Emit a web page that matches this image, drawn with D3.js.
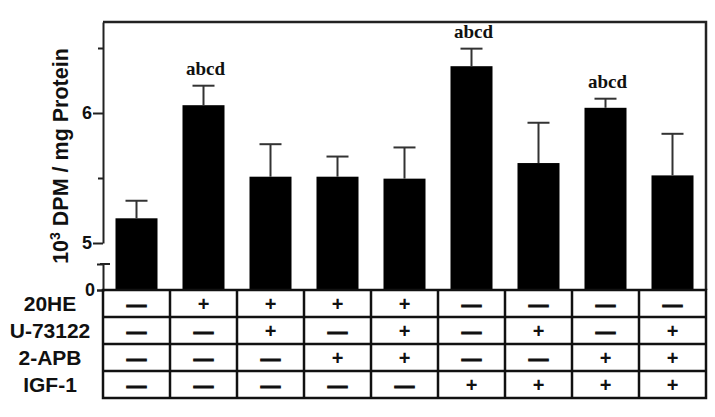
<!DOCTYPE html>
<html>
<head>
<meta charset="utf-8">
<script src="https://cdn.jsdelivr.net/npm/d3@7"></script>
<style>
  body { margin: 0; background: #fff; }
  text { font-family: "Liberation Sans", Arial, sans-serif; font-weight: bold; fill: #111; }
  .sig { font-family: "Liberation Serif", "Times New Roman", serif; }
</style>
</head>
<body>
<svg id="chart"></svg>
<script>
// group means and errors (10^3 DPM / mg protein)
var means = [5.19, 6.06, 5.51, 5.51, 5.495, 6.36, 5.615, 6.04, 5.52];
var errs = [0.135, 0.15, 0.25, 0.155, 0.24, 0.135, 0.31, 0.07, 0.32];
var sigLabels = ["", "abcd", "", "", "", "abcd", "", "abcd", ""];

// treatment table, 1 = "+", 0 = "-"
var treatments = ["20HE", "U-73122", "2-APB", "IGF-1"];
var design = [
    [0, 1, 1, 1, 1, 0, 0, 0, 0],
    [0, 0, 1, 0, 1, 0, 1, 0, 1],
    [0, 0, 0, 1, 1, 0, 0, 1, 1],
    [0, 0, 0, 0, 0, 1, 1, 1, 1]
];
var yTicks = [5, 5.5, 6, 6.5];

var plotL = 103, plotR = 706, plotT = 22, breakY = 243, base = 290, rowH = 27;

var svg = d3.select("#chart")
    .attr("width", 715)
    .attr("height", 417);

var idx = d3.range(means.length);

var x = d3.scaleBand().domain(idx).range([plotL, plotR])
    .paddingInner(0.373).paddingOuter(0.1865);
var xCol = d3.scaleBand().domain(idx).range([plotL, plotR]);

var y = d3.scaleLinear().domain([5, 6.7]).range([breakY, plotT]);
var yLow = d3.scaleLinear().domain([0, 1]).range([base, base - 26]);
var yRow = d3.scaleBand().domain(d3.range(treatments.length))
    .range([base, base + rowH * treatments.length]);

// bars
svg.append("g").selectAll("rect")
    .data(idx)
    .enter().append("rect")
    .attr("x", function(i) { return x(i); })
    .attr("y", function(i) { return y(means[i]); })
    .attr("width", x.bandwidth())
    .attr("height", function(i) { return yLow(0) - y(means[i]); })
    .attr("fill", "#000");

// error bars (upper half only)
var eb = svg.append("g").attr("stroke", "#333").attr("stroke-width", 2);
idx.forEach(function(i) {
    var cx = x(i) + x.bandwidth() / 2;
    eb.append("line")
        .attr("x1", cx).attr("x2", cx)
        .attr("y1", y(means[i])).attr("y2", y(means[i] + errs[i]));
    eb.append("line")
        .attr("x1", cx - 11).attr("x2", cx + 11)
        .attr("y1", y(means[i] + errs[i])).attr("y2", y(means[i] + errs[i]));
});

// significance letters
svg.append("g").selectAll("text")
    .data(idx.filter(function(i) { return sigLabels[i]; }))
    .enter().append("text")
    .attr("class", "sig")
    .attr("x", function(i) { return x(i) + x.bandwidth() / 2 + 2; })
    .attr("y", function(i) { return y(means[i] + errs[i]) - 11; })
    .attr("text-anchor", "middle")
    .style("font-size", "19px")
    .text(function(i) { return sigLabels[i]; });

// frame: top and right edges
svg.append("path")
    .attr("d", "M" + plotL + "," + plotT + "H" + plotR + "V" + base)
    .attr("fill", "none").attr("stroke", "#222").attr("stroke-width", 2.5);

// upper y axis
var yAxis = d3.axisLeft(y).tickValues(yTicks).tickSizeOuter(0)
    .tickFormat(function(d) { return d % 1 ? "" : d; });
var ga = svg.append("g")
    .attr("transform", "translate(" + plotL + ",0)")
    .call(yAxis);
ga.selectAll("line").attr("x2", function(d) { return d % 1 ? -5 : -10; });
ga.selectAll("text").attr("x", -11).style("font-size", "18px");

// lower y axis (below the break)
var gb = svg.append("g")
    .attr("transform", "translate(" + plotL + ",0)")
    .call(d3.axisLeft(yLow).tickValues([0]).tickSizeOuter(0).tickSize(6)
        .tickFormat(function(d) { return d; }));
gb.selectAll("text").attr("x", -8).style("font-size", "18px");
gb.append("line")
    .attr("class", "cap")
    .attr("x1", -3).attr("x2", 7)
    .attr("y1", yLow(1)).attr("y2", yLow(1));

svg.selectAll(".domain, .tick line, .cap").attr("stroke", "#222").attr("stroke-width", 2);

// y label
svg.append("text")
    .attr("transform", "translate(68,156) rotate(-90)")
    .attr("text-anchor", "middle")
    .style("font-size", "21.5px")
    .call(function(t) {
        t.append("tspan").text("10");
        t.append("tspan").attr("dy", -8).style("font-size", "14px").text("3");
        t.append("tspan").attr("dy", 8).text(" DPM / mg Protein");
    });

// treatment table
var tbl = svg.append("g");
tbl.append("rect")
    .attr("x", plotL).attr("y", base)
    .attr("width", plotR - plotL).attr("height", yRow.range()[1] - base)
    .attr("fill", "none").attr("stroke", "#111").attr("stroke-width", 2.5);
yRow.domain().slice(1).forEach(function(r) {
    tbl.append("line")
        .attr("x1", plotL).attr("x2", plotR)
        .attr("y1", yRow(r)).attr("y2", yRow(r))
        .attr("stroke", "#111").attr("stroke-width", 2.5);
});
idx.slice(1).forEach(function(i) {
    tbl.append("line")
        .attr("x1", xCol(i)).attr("x2", xCol(i))
        .attr("y1", base).attr("y2", yRow.range()[1])
        .attr("stroke", "#111").attr("stroke-width", 2.5);
});

treatments.forEach(function(name, r) {
    var cy = yRow(r) + yRow.bandwidth() / 2;
    tbl.append("text")
        .attr("x", 50).attr("y", cy).attr("dy", "0.36em")
        .attr("text-anchor", "middle")
        .style("font-size", "21px")
        .text(name);
    design[r].forEach(function(v, i) {
        tbl.append("text")
            .attr("x", xCol(i) + xCol.bandwidth() / 2)
            .attr("y", cy).attr("dy", "0.36em")
            .attr("text-anchor", "middle")
            .style("font-size", "20px")
            .attr("stroke", v ? "none" : "#111")
            .attr("stroke-width", 0.8)
            .text(v ? "+" : "\u2014");
    });
});
</script>
</body>
</html>
